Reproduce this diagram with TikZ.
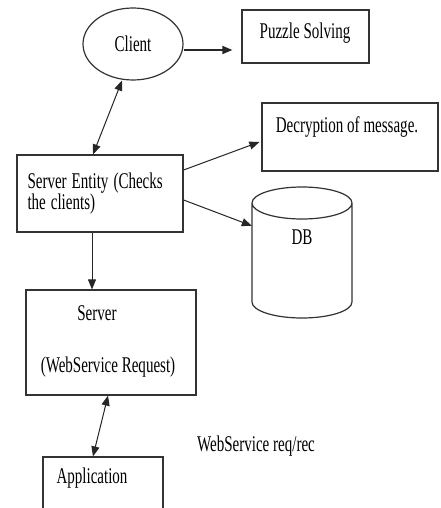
\documentclass[tikz,border=0pt]{standalone}
\usepackage{fontspec}
\setmainfont{Liberation Serif}
\usetikzlibrary{arrows.meta,shapes.geometric}
% tall, narrow lettering used for all labels
\newcommand\tallt[1]{\scalebox{0.97}[1.45]{#1}}
\begin{document}
\begin{tikzpicture}[x=1pt,y=-1pt,
  every node/.style={font=\fontsize{15.5}{20}\selectfont, inner sep=0pt},
  stepbox/.style={draw=black!80, line width=1.2pt, rectangle},
  txt/.style={text=black},
  conn/.style={draw=black!85, line width=1pt},
  tip/.style={-{Triangle[length=10pt,width=8pt]}},
  tips/.style={{Triangle[length=10pt,width=8pt]}-{Triangle[length=10pt,width=8pt]}}]
\clip (0,0) rectangle (440,508);
\fill[white] (0,0) rectangle (440,508);

% client and its job
\node[ellipse, draw=black!80, line width=1.2pt, minimum width=100pt, minimum height=72pt] (client) at (133,44) {\tallt{Client}};
\node[stepbox, minimum width=127pt, minimum height=53pt] (puzzle) at (305.5,36.5) {};
\node[txt] (puzzlet) at (305,33) {\tallt{Puzzle Solving}};

% server entity
\node[stepbox, minimum width=166pt, minimum height=77pt, text width=145pt, inner xsep=10.5pt, align=left] (se) at (100,193.5)
  {\fontsize{15.5}{28}\selectfont\tallt{Server Entity (Checks}\\\tallt{the clients)}};

% decryption
\node[stepbox, minimum width=176pt, minimum height=68pt] (dec) at (350,137) {};
\node[txt] (dect) at (347,127) {\tallt{Decryption of message.}};

% database cylinder
\node[minimum width=100pt, minimum height=131pt] (db) at (302,252.5) {};
\draw[draw=black!80, line width=1.2pt]
  (302,203) ellipse[x radius=50pt, y radius=16pt]
  (252,203) -- (252,302) arc[start angle=180, end angle=360, x radius=50pt, y radius=16pt] -- (352,203);
\node[txt] (dbt) at (302,237) {\tallt{DB}};

% server
\node[stepbox, minimum width=170pt, minimum height=105pt] (server) at (111,342.5) {};
\node[txt] (servert) at (97,313) {\tallt{Server}};
\node[txt] (serverr) at (108,367) {\tallt{(WebService Request)}};

% application (runs past the lower edge)
\node[stepbox, minimum width=120pt, minimum height=80pt] (app) at (103,497) {};
\node[txt] (appt) at (92,478) {\tallt{Application}};

\node[txt] (ws) at (256,446) {\tallt{WebService req/rec}};

% connectors
\draw[conn, line width=1.6pt, tip, shorten >=9pt] ([yshift=-6pt]client.east) -- ([yshift=-6pt]client.east -| puzzle.west);
\draw[conn, tips] ([xshift=-11pt]client.south) -- ([xshift=-7pt]se.north);
\draw[conn, tip] ([yshift=23.5pt]se.east) -- ([xshift=-2pt,yshift=-5pt]dec.west);
\draw[conn, tip] ([yshift=-6.5pt]se.east) -- ([yshift=-39pt]db.north west);
\draw[conn, tip] ([xshift=-8pt]se.south) -- ([xshift=-19pt]server.north);
\draw[conn, tips] ([xshift=-3pt]server.south) -- ([xshift=-10pt]app.north);
\end{tikzpicture}
\end{document}
